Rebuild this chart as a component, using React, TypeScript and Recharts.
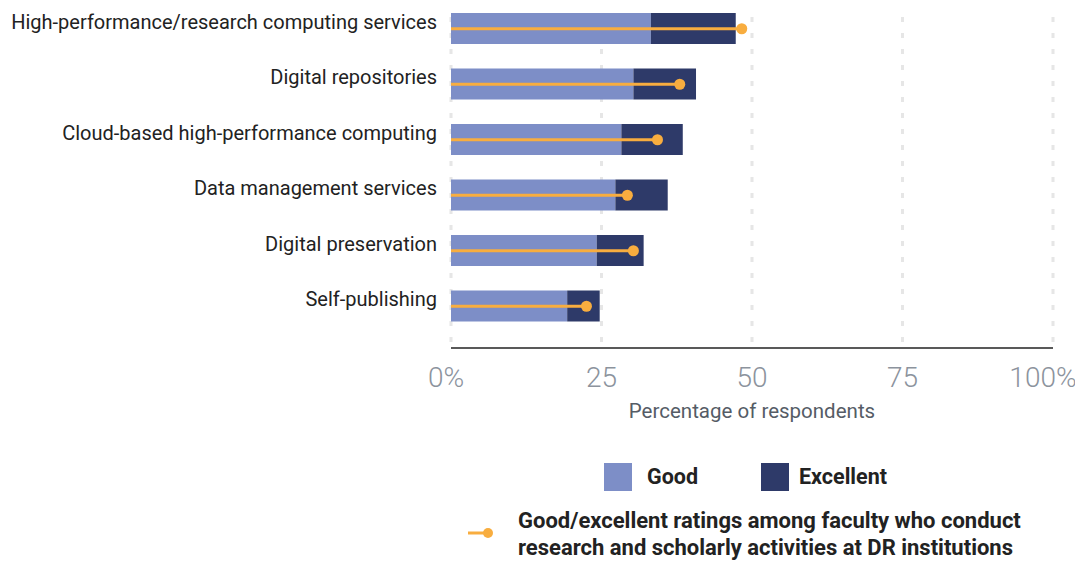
import React from 'react';
import {
  ComposedChart,
  Bar,
  XAxis,
  YAxis,
  CartesianGrid,
  ReferenceLine,
  ReferenceDot,
  Label,
} from 'recharts';

const categories = [
  'High-performance/research computing services',
  'Digital repositories',
  'Cloud-based high-performance computing',
  'Data management services',
  'Digital preservation',
  'Self-publishing',
];
const goodValues = [33.2, 30.3, 28.3, 27.3, 24.2, 19.3];
const excellentValues = [14.1, 10.4, 10.2, 8.7, 7.8, 5.4];
const facultyValues = [48.3, 38.0, 34.3, 29.3, 30.3, 22.5];
const xTicks = [0, 25, 50, 75, 100];

const GOOD = '#7D8EC7';
const EXCELLENT = '#2E3A69';
const ORANGE = '#F8AD3F';
const FONT = 'Roboto, "Noto Sans", sans-serif';

const data = categories.map((name, i) => ({
  name,
  good: goodValues[i],
  excellent: excellentValues[i],
  faculty: facultyValues[i],
}));

const YTick = (props: any) => {
  const { x, y, payload } = props;
  return (
    <text
      x={x}
      y={y - 7}
      textAnchor="end"
      dominantBaseline="central"
      fontFamily={FONT}
      fontSize={20}
      fill="#222"
    >
      {payload.value}
    </text>
  );
};

const XTick = (props: any) => {
  const { x, y, payload, index } = props;
  const v = payload.value;
  const label = v === 0 || v === 100 ? `${v}%` : `${v}`;
  const shift = index === 0 ? -5 : index === xTicks.length - 1 ? -10 : 0;
  return (
    <text
      x={x + shift}
      y={y}
      dy="0.75em"
      textAnchor="middle"
      fontFamily={FONT}
      fontSize={28}
      fontWeight={300}
      fill="#8C939D"
    >
      {label}
    </text>
  );
};

export default function App() {
  return (
    <div
      style={{
        position: 'relative',
        marginTop: -8,
        marginLeft: -8,
        width: 1083,
        height: 563,
        fontFamily: FONT,
      }}
    >
      <ComposedChart
        layout="vertical"
        width={1083}
        height={440}
        data={data}
        margin={{ top: 1, right: 30, left: 0, bottom: 22 }}
      >
        <CartesianGrid
          horizontal={false}
          stroke="#E6E6E6"
          strokeWidth={3}
          strokeDasharray="5 11"
        />
        <XAxis
          type="number"
          domain={[0, 100]}
          ticks={xTicks}
          tickLine={false}
          axisLine={{ stroke: '#222', strokeWidth: 1.5 }}
          tickMargin={12}
          height={70}
          tick={<XTick />}
        >
          <Label
            value="Percentage of respondents"
            position="insideBottom"
            offset={0}
            style={{ fill: '#555C66', fontSize: 20.5, fontFamily: FONT }}
          />
        </XAxis>
        <YAxis
          type="category"
          dataKey="name"
          width={451}
          tickLine={false}
          axisLine={false}
          tickMargin={8}
          tick={<YTick />}
          padding={{ top: 0, bottom: 14 }}
          interval={0}
        />
        <Bar dataKey="good" stackId="a" fill={GOOD} barSize={31} isAnimationActive={false} />
        <Bar dataKey="excellent" stackId="a" fill={EXCELLENT} barSize={31} isAnimationActive={false} />
        {data.map((d) => (
          <ReferenceLine
            key={`l-${d.name}`}
            segment={[
              { x: 0, y: d.name },
              { x: d.faculty, y: d.name },
            ]}
            stroke={ORANGE}
            strokeWidth={3}
            ifOverflow="visible"
          />
        ))}
        {data.map((d) => (
          <ReferenceDot
            key={`d-${d.name}`}
            x={d.faculty}
            y={d.name}
            r={5.5}
            fill={ORANGE}
            stroke="none"
            ifOverflow="visible"
          />
        ))}
      </ComposedChart>

      {/* Legend */}
      <div style={{ position: 'absolute', left: 604, top: 463, width: 28, height: 28, background: GOOD }} />
      <div
        style={{
          position: 'absolute',
          left: 647,
          top: 463,
          height: 28,
          lineHeight: '28px',
          fontSize: 21.5,
          fontWeight: 700,
          color: '#222',
        }}
      >
        Good
      </div>
      <div style={{ position: 'absolute', left: 761, top: 463, width: 28, height: 28, background: EXCELLENT }} />
      <div
        style={{
          position: 'absolute',
          left: 799,
          top: 463,
          height: 28,
          lineHeight: '28px',
          fontSize: 21.5,
          fontWeight: 700,
          color: '#222',
        }}
      >
        Excellent
      </div>
      <svg style={{ position: 'absolute', left: 464, top: 525 }} width={32} height={16}>
        <line x1={4} y1={8} x2={24} y2={8} stroke={ORANGE} strokeWidth={3} />
        <circle cx={24} cy={8} r={5} fill={ORANGE} />
      </svg>
      <div
        style={{
          position: 'absolute',
          left: 518,
          top: 507,
          fontSize: 22,
          lineHeight: '27px',
          fontWeight: 700,
          color: '#222',
          whiteSpace: 'nowrap',
        }}
      >
        Good/excellent ratings among faculty who conduct
        <br />
        research and scholarly activities at DR institutions
      </div>
    </div>
  );
}
